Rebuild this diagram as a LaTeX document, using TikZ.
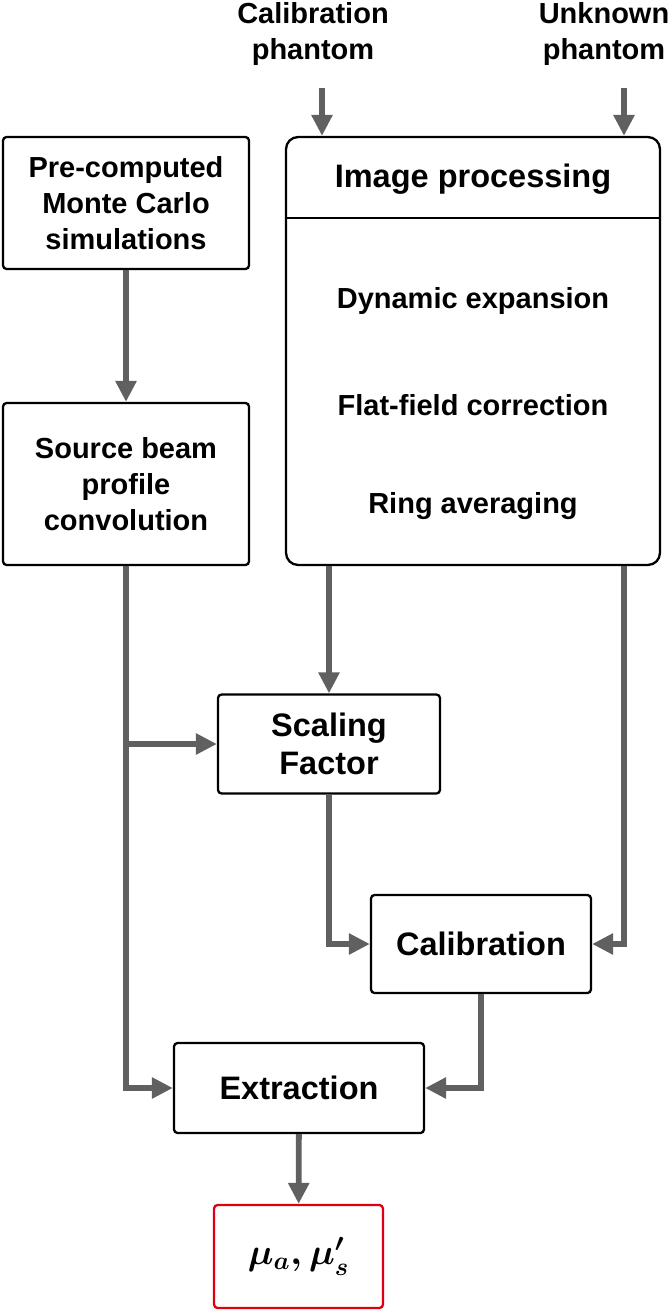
\documentclass[tikz,border=0pt]{standalone}
\usepackage{fontspec}
\usepackage{amsmath}
\setmainfont{Liberation Sans}
\usetikzlibrary{arrows.meta,calc}
\definecolor{flow_grey}{RGB}{96, 96, 96}
\definecolor{res_red}{RGB}{222, 0, 16}
\tikzstyle{blk}=[rectangle,rounded corners=2pt,draw=black,fill=white,
  line width=1.3pt,align=center,inner sep=2pt,
  font=\fontsize{16.5}{20.5}\selectfont\bfseries]
\tikzstyle{big}=[blk,font=\fontsize{18.5}{22}\selectfont\bfseries]
\tikzstyle{res}=[blk,draw=res_red,font=\fontsize{21}{25}\selectfont]
\tikzstyle{lbl}=[align=center,inner sep=0pt,
  font=\fontsize{16.5}{20.5}\selectfont\bfseries]
\tikzstyle{flow}=[draw=flow_grey,line width=3.3pt,
  -{Triangle[length=12pt,width=11.5pt]}]

\begin{document}
\begin{tikzpicture}[x=0.02cm, y=-0.02cm]
    \useasboundingbox (0,0) rectangle (669,1312);
    % inputs
    \node [style=lbl] (cp) at (313, 34) {Calibration\\phantom};
    \node [style=lbl] (up) at (604, 34) {Unknown\\phantom};
    \coordinate (cpin) at (322, 88);
    \coordinate (upin) at (624, 88);
    % blocks
    \node [style=blk, minimum width=4.92cm, minimum height=2.64cm] (mc) at (126, 203) {Pre-computed\\Monte Carlo\\simulations};
    \node [style=blk, minimum width=4.92cm, minimum height=3.24cm] (src) at (126, 484) {Source beam\\profile\\convolution};
    \node [style=blk, rounded corners=0.24cm, minimum width=7.48cm, minimum height=8.56cm] (ip) at (473, 351) {};
    \coordinate (sep) at (473, 218);
    \draw [line width=1.3pt] (ip.west |- sep) to (ip.east |- sep);
    \node [style=lbl, font=\fontsize{18.5}{22}\selectfont\bfseries] (ipt) at (473, 179) {Image processing};
    \node [style=lbl] (ip1) at (473, 301) {Dynamic expansion};
    \node [style=lbl] (ip2) at (473, 405) {Flat-field correction};
    \node [style=lbl] (ip3) at (473, 506) {Ring averaging};
    \node [style=big, minimum width=4.44cm, minimum height=1.98cm] (sf) at (329, 744) {Scaling\\Factor};
    \node [style=big, minimum width=4.4cm, minimum height=1.96cm] (cal) at (481, 944) {Calibration};
    \node [style=big, minimum width=5cm, minimum height=1.8cm] (ex) at (299, 1088) {Extraction};
    \node [style=res, minimum width=3.38cm, minimum height=2.06cm] (out) at (298.5, 1256.5) {$\boldsymbol{\mu_a, \mu'_s}$};
    % connectors
    \draw [style=flow] (cpin) to (cpin |- ip.north);
    \draw [style=flow] (upin) to (upin |- ip.north);
    \draw [style=flow] (mc) to (src);
    \draw [style=flow] (src.south) |- (ex.west);
    \draw [style=flow] (src.south |- sf.west) to (sf.west);
    \draw [style=flow] (ip.south -| sf.north) to (sf.north);
    \draw [style=flow] (sf.south) |- (cal.west);
    \draw [style=flow] (ip.south -| upin) |- (cal.east);
    \draw [style=flow] (cal.south) |- (ex.east);
    \draw [style=flow] (ex) to (out);
\end{tikzpicture}
\end{document}
